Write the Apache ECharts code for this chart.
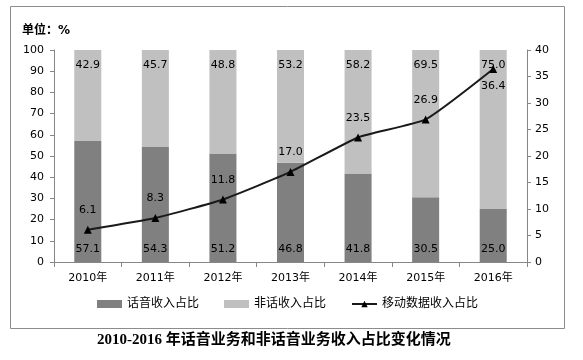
<!DOCTYPE html>
<html><head><meta charset="utf-8">
<script src="https://cdn.jsdelivr.net/npm/echarts@6/dist/echarts.min.js"></script>
<style>html,body{margin:0;padding:0;background:#fff}#c{width:583px;height:360px}</style>
</head><body><div id="c"></div>
<script>
var categories = ['2010年','2011年','2012年','2013年','2014年','2015年','2016年'];
var voiceShare = [57.1, 54.3, 51.2, 46.8, 41.8, 30.5, 25.0];
var nonVoiceShare = [42.9, 45.7, 48.8, 53.2, 58.2, 69.5, 75.0];
var mobileDataShare = [6.1, 8.3, 11.8, 17.0, 23.5, 26.9, 36.4];
var seriesNames = ['话音收入占比', '非话收入占比', '移动数据收入占比'];
var unitText = '单位：%';
var titleText = '2010-2016 年话音业务和非话音业务收入占比变化情况';

var FONT = 'DejaVu Sans, Noto Sans CJK SC, sans-serif';
var chart = echarts.init(document.getElementById('c'), null, {renderer: 'canvas'});
var axisLineStyle = {lineStyle: {color: '#868686', width: 1}};
chart.setOption({
  animation: false,
  textStyle: {fontFamily: FONT},
  grid: {left: 54, right: 56, top: 50, bottom: 98},
  graphic: [
    {type: 'rect', shape: {x: 10.5, y: 6.5, width: 554, height: 322}, style: {fill: 'none', stroke: '#8c8c8c', lineWidth: 1}, silent: true},
    {type: 'text', left: 22, top: 25, style: {text: unitText, font: 'bold 12px ' + FONT, fill: '#000'}},
    {type: 'text', left: 97, top: 333, style: {text: titleText, font: 'bold 15px Liberation Serif, Noto Sans CJK SC, serif', fill: '#000'}}
  ],
  legend: {
    bottom: 45, left: 92, itemWidth: 25, itemHeight: 8, itemGap: 25,
    textStyle: {fontSize: 12, color: '#000', fontFamily: FONT},
    data: [
      {name: seriesNames[0], icon: 'rect'},
      {name: seriesNames[1], icon: 'rect'},
      {name: seriesNames[2]}
    ]
  },
  xAxis: {
    type: 'category', data: categories,
    axisLine: axisLineStyle,
    axisTick: {show: true, length: 5, lineStyle: {color: '#868686'}},
    axisLabel: {color: '#000', fontSize: 11, margin: 11}
  },
  yAxis: [
    {type: 'value', min: 0, max: 100, interval: 10, position: 'left',
     axisLine: {show: true, lineStyle: {color: '#868686'}},
     axisTick: {show: true, length: 4, lineStyle: {color: '#868686'}},
     splitLine: {show: false},
     axisLabel: {color: '#000', fontSize: 11, margin: 10}},
    {type: 'value', min: 0, max: 40, interval: 5, position: 'right',
     axisLine: {show: true, lineStyle: {color: '#868686'}},
     axisTick: {show: true, length: 4, lineStyle: {color: '#868686'}},
     splitLine: {show: false},
     axisLabel: {color: '#000', fontSize: 11, margin: 8}}
  ],
  series: [
    {name: seriesNames[0], type: 'bar', stack: 's', barWidth: '40%', data: voiceShare,
     itemStyle: {color: '#808080'},
     label: {show: true, position: 'insideBottom', distance: 7, color: '#000', fontSize: 11, formatter: function(p){return p.value.toFixed(1);}}},
    {name: seriesNames[1], type: 'bar', stack: 's', barWidth: '40%', data: nonVoiceShare,
     itemStyle: {color: '#c0c0c0'},
     label: {show: true, position: 'insideTop', distance: 10, color: '#000', fontSize: 11, formatter: function(p){return p.value.toFixed(1);}}},
    {name: seriesNames[2], type: 'line', yAxisIndex: 1, smooth: 0.15,
     data: mobileDataShare.map(function(v, i){
       return i === mobileDataShare.length - 1 ? {value: v, label: {position: 'bottom', distance: 8}} : v;
     }),
     symbol: 'triangle', symbolSize: 8,
     lineStyle: {color: '#1a1a1a', width: 2},
     itemStyle: {color: '#000'},
     label: {show: true, position: 'top', distance: 10, color: '#000', fontSize: 11, formatter: function(p){return p.value.toFixed(1);}}}
  ]
});
</script></body></html>
